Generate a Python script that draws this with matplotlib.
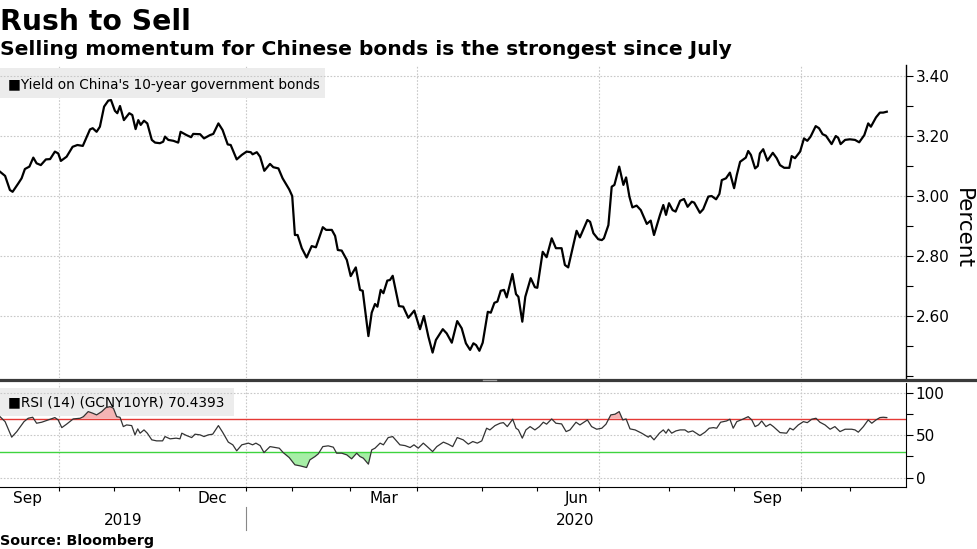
import matplotlib
matplotlib.use("Agg")
import matplotlib.pyplot as plt
import matplotlib.transforms as mtrans
from matplotlib.lines import Line2D
from matplotlib.patches import Rectangle
import numpy as np

W, H = 977, 549

# x axis: trading days counted from the start of Sep 2019
yield_days = [0, 1.7, 3.3, 4.2, 6.1, 7.2, 8.3, 9.8, 11.1, 12.2, 13.6, 15.3, 16.7, 18.3, 19.4,
              20.3, 22.2, 24.2, 25.8, 27.6, 28.7, 30, 30.9, 32.2, 33.3, 34.7, 36.1, 37, 38.3,
              39.1, 40, 41.3, 43.1, 44.1, 45.2, 46.1, 46.9, 48, 49.1, 50.6, 51.7, 53.3, 54.4,
              55, 56.1, 57.8, 59.4, 60.2, 62.2, 63.7, 64.4, 66.7, 68, 70, 71.1, 72.8, 74.2,
              75.9, 76.9, 78.9, 80.6, 82.2, 83.6, 84.2, 85.6, 86.7, 88.1, 90, 91.1, 92.8, 94.2,
              96.4, 97.4, 98.3, 99.2, 100.6, 102.2, 103.9, 105.3, 107.6, 108.7, 110.6, 111.7,
              112.6, 113.9, 115.6, 116.9, 118.6, 120, 120.9, 122.8, 123.9, 125, 125.8, 126.9,
              127.8, 129.1, 130, 130.9, 133, 134.4, 136.1, 138.1, 140, 141.3, 142.8, 144.2,
              145.3, 147.6, 148.9, 150.6, 152.4, 153.9, 155.3, 156.7, 157.8, 158.7, 159.8,
              160.9, 162.6, 163.6, 164.8, 165.8, 166.9, 168, 168.9, 170.8, 172, 172.8, 174.1,
              175.1, 176.9, 178.3, 179.1, 180.9, 182.2, 183.9, 185.3, 187.2, 188.3, 189.4,
              192.2, 193.3, 195.8, 196.7, 197.8, 199.4, 200.6, 201.3, 202.8, 203.9, 204.8,
              206.4, 207.8, 208.7, 209.8, 210.8, 212.2, 213.6, 215.6, 216.9, 218, 220, 221.1,
              222, 223, 224.2, 225.2, 226.7, 228, 229.2, 230.6, 231.4, 233.3, 234.4, 236.1,
              237.2, 238.7, 239.8, 240.6, 242, 243.3, 244.7, 245.6, 246.7, 247.8, 248.6, 249.4,
              250.3, 251.7, 252.6, 253.3, 254.4, 255.8, 257.6, 258.9, 260, 261.4, 263.1, 263.9,
              265, 266.7, 268, 269.1, 270.2, 271.9, 273, 274.2, 275.3, 277.2, 278.6, 279.4,
              280.2, 281.7, 283.3, 285, 286.4, 288.1, 289.4, 290.3, 292, 293.3, 294.4, 295.6]
yield_pct = [3.081, 3.067, 3.02, 3.014, 3.042, 3.059, 3.09, 3.098, 3.128, 3.109, 3.103, 3.122,
             3.123, 3.148, 3.142, 3.117, 3.131, 3.164, 3.17, 3.167, 3.192, 3.222, 3.226, 3.214,
             3.231, 3.298, 3.318, 3.32, 3.284, 3.276, 3.30, 3.253, 3.276, 3.27, 3.223, 3.253,
             3.237, 3.251, 3.242, 3.187, 3.178, 3.176, 3.181, 3.198, 3.187, 3.184, 3.178,
             3.214, 3.203, 3.196, 3.207, 3.206, 3.192, 3.203, 3.207, 3.242, 3.22, 3.172, 3.17,
             3.122, 3.137, 3.148, 3.146, 3.139, 3.146, 3.131, 3.084, 3.107, 3.096, 3.092,
             3.059, 3.022, 3.00, 2.87, 2.87, 2.826, 2.795, 2.833, 2.829, 2.896, 2.887, 2.887,
             2.867, 2.82, 2.818, 2.787, 2.733, 2.762, 2.687, 2.684, 2.533, 2.611, 2.64, 2.631,
             2.687, 2.676, 2.718, 2.72, 2.734, 2.633, 2.631, 2.594, 2.618, 2.556, 2.60, 2.531,
             2.478, 2.52, 2.556, 2.542, 2.511, 2.583, 2.559, 2.509, 2.487, 2.509, 2.503, 2.484,
             2.511, 2.614, 2.611, 2.644, 2.648, 2.684, 2.687, 2.662, 2.74, 2.673, 2.664, 2.581,
             2.664, 2.726, 2.696, 2.694, 2.814, 2.796, 2.859, 2.826, 2.826, 2.77, 2.762, 2.884,
             2.862, 2.92, 2.914, 2.876, 2.856, 2.853, 2.859, 2.903, 3.031, 3.037, 3.098, 3.037,
             3.062, 2.998, 2.962, 2.968, 2.953, 2.907, 2.918, 2.87, 2.937, 2.97, 2.937, 2.976,
             2.953, 2.948, 2.984, 2.99, 2.964, 2.981, 2.978, 2.944, 2.956, 2.998, 3.00, 2.989,
             3.007, 3.053, 3.059, 3.078, 3.026, 3.07, 3.114, 3.122, 3.128, 3.15, 3.137, 3.092,
             3.10, 3.142, 3.156, 3.118, 3.144, 3.126, 3.103, 3.094, 3.094, 3.133, 3.126, 3.148,
             3.192, 3.184, 3.198, 3.233, 3.226, 3.206, 3.201, 3.173, 3.20, 3.194, 3.173, 3.187,
             3.189, 3.187, 3.179, 3.203, 3.242, 3.231, 3.262, 3.278, 3.278, 3.281]

rsi_days = [0, 1.7, 3.9, 5.6, 8, 9.4, 10.9, 12.2, 13.9, 16.1, 18.3, 19.4, 20.6, 22.2, 24.4,
            26.7, 27.8, 29.4, 30.9, 32.2, 33.9, 35.3, 36.7, 37.8, 38.9, 40, 41.1, 42.2, 43.9,
            45, 45.9, 46.7, 48, 49.1, 50.6, 52.2, 54.2, 55, 56.7, 58.7, 60, 60.6, 62.2, 63.9,
            65, 66.7, 68, 69.4, 70.9, 72.8, 74.2, 76.1, 77.6, 78.9, 80.6, 82.8, 84.2, 85.3,
            86.7, 88, 90, 91.7, 93.1, 94.4, 96.4, 98.3, 100, 102.2, 103.3, 105, 106.1, 107.6,
            109.4, 111.1, 112.2, 113.9, 115.6, 117.2, 118.9, 120, 121.1, 122.8, 123.9, 125,
            126.7, 127.8, 129.4, 130.9, 133.3, 135, 136.7, 138, 139.4, 141.1, 142.4, 144.2,
            145.6, 147.8, 149.4, 150.9, 152.4, 154.4, 156.1, 157.6, 159.1, 160.6, 162.2, 163.3,
            165, 166.7, 167.8, 169.1, 170.9, 172, 172.8, 174.1, 175.3, 176.7, 178.3, 179.8,
            181.1, 182.2, 183.9, 185.3, 187.2, 188.7, 190, 192, 193.3, 195.8, 197.2, 198.9,
            200.6, 202, 203.6, 205, 206.4, 207.6, 208.7, 210, 211.7, 213.9, 216.1, 216.7, 218,
            219.8, 221.1, 222, 222.8, 223.9, 225.3, 226.7, 228.3, 229.4, 230.9, 233.3, 235,
            236.4, 237.8, 238.9, 240.2, 242.2, 243.3, 244.4, 245.6, 247.6, 249.4, 250.6, 251.7,
            252.8, 253.9, 255.3, 256.7, 257.8, 260, 262.2, 263.3, 264.4, 266.1, 267.8, 269.1,
            270.6, 272, 273.3, 275, 276.7, 278.3, 280, 281.7, 283.9, 285, 286.1, 287.8, 289.4,
            290.6, 292, 293.3, 294.4, 295.6]
rsi_vals = [72.2, 66.3, 47.9, 54.5, 66.3, 70.3, 71.5, 64.4, 65.6, 68.3, 71.1, 68.3, 59.2, 63.3,
            69.5, 70.3, 72.2, 78.2, 76.3, 74.3, 78.2, 82.9, 84.1, 82.2, 72.2, 71.5, 60.4, 62.4,
            61.6, 50.6, 57.7, 52.6, 56.5, 52.6, 44.7, 43.5, 43.5, 48.6, 45.9, 46.7, 45.9, 52.6,
            49.8, 47.4, 51.4, 50.6, 48.6, 50.6, 51.4, 61.6, 53.8, 42, 38.8, 31.7, 38.8, 40.8,
            38.8, 40.8, 37.9, 29.6, 36.7, 35.6, 34.8, 29.6, 23.7, 15.1, 13.9, 11.9, 21, 24.9,
            28.1, 36.7, 37.6, 36, 28.9, 28.9, 26.9, 22.2, 28.9, 24.9, 23, 15.9, 32.8, 34.8, 40.8,
            38.8, 47.4, 48.6, 38.8, 37.9, 35.6, 38.8, 34.8, 40.8, 36.7, 30.8, 36.7, 42, 39.6,
            36.7, 47.4, 44.7, 39.6, 42.7, 40.8, 43.5, 58.5, 56.5, 61.6, 64.4, 65.1, 60.4, 69.2,
            58.5, 56.5, 46.7, 56.5, 60.4, 56.5, 60.4, 65.6, 63.3, 69.5, 64.4, 63.6, 54.5, 56.5,
            65.6, 62.4, 68.3, 60.4, 57.3, 58.5, 63.3, 74.3, 75.1, 78.2, 68.3, 69.5, 57.7, 56.5,
            52.6, 47.9, 49.8, 44.7, 52.6, 56.5, 52.6, 57.3, 52.6, 55.3, 56.5, 56.5, 53.8, 55.3,
            49.8, 53.8, 58.5, 59.2, 58.5, 65.6, 67.1, 69.2, 58.5, 66.3, 69.2, 72.2, 68.3, 60.4,
            62.4, 67.1, 60.4, 63.3, 60.4, 53.3, 52.6, 58.5, 56.5, 62.4, 66.3, 65.1, 69.2, 70.3,
            65.6, 62.4, 57.3, 60.4, 54.5, 57.3, 57.3, 56.5, 53.8, 60.4, 68.3, 64.4, 68.3, 71.1,
            71.5, 71.1]
rsi_high, rsi_low = 70, 30

month_starts = [19.7, 38, 59.7, 82, 97.3, 116.7, 139, 160.7, 179, 199.7, 223, 244.7, 267, 283.3]
quarter_starts = [19.7, 82, 139, 199.7, 267]
month_label_pos = [9.3, 70.7, 128, 192.3, 256]
month_labels = ["Sep", "Dec", "Mar", "Jun", "Sep"]
year_pos = [41, 191.7]
year_labels = ["2019", "2020"]
year_break = 82

plt.rcParams["font.family"] = "DejaVu Sans"
plt.rcParams["font.size"] = 11

fig = plt.figure(figsize=(W / 100, H / 100), dpi=100)


def px_box(x0, y0, x1, y1):
    return [x0 / W, 1 - y1 / H, (x1 - x0) / W, (y1 - y0) / H]


grid_kw = dict(color="#c8c8c8", ls=(0, (1.5, 1.5)), lw=0.8)

# ---- top panel: yield
ax1 = fig.add_axes(px_box(0, 65, 906, 378))
ax1.plot(yield_days, yield_pct, color="black", lw=1.6, zorder=3)
ax1.set_xlim(0, 302)
ax1.set_ylim(2.3933, 3.4367)
ax1.yaxis.tick_right()
ax1.set_yticks([2.6, 2.8, 3.0, 3.2, 3.4])
ax1.set_yticklabels([f"{v:.2f}" for v in [2.6, 2.8, 3.0, 3.2, 3.4]])
ax1.set_yticks([2.4, 2.5, 2.7, 2.9, 3.1, 3.3], minor=True)
ax1.tick_params(axis="y", which="both", length=5, width=0.8, pad=2, direction="out")
ax1.set_xticks([])
ax1.grid(axis="y", **grid_kw)
for q in quarter_starts:
    ax1.axvline(q, zorder=0, **grid_kw)
for s in ["top", "left", "bottom"]:
    ax1.spines[s].set_visible(False)
ax1.spines["right"].set_linewidth(1)

# ---- bottom panel: RSI
ax2 = fig.add_axes(px_box(0, 383, 906, 487))
rd = np.array(rsi_days)
rv = np.array(rsi_vals)
ax2.fill_between(rd, rv, rsi_high, where=rv > rsi_high, interpolate=True,
                 color="#f4b4b4", lw=0, zorder=2)
ax2.fill_between(rd, rv, rsi_low, where=rv < rsi_low, interpolate=True,
                 color="#a6eea6", lw=0, zorder=2)
ax2.axhline(rsi_high, color="#e53935", lw=1, zorder=2.5)
ax2.axhline(rsi_low, color="#3fd43f", lw=1, zorder=2.5)
ax2.plot(rd, rv, color="#333333", lw=0.9, zorder=3)
ax2.set_xlim(0, 302)
ax2.set_ylim(-11.2, 112.1)
ax2.yaxis.tick_right()
ax2.set_yticks([0, 50, 100])
ax2.set_yticks([25, 75], minor=True)
ax2.tick_params(axis="y", which="both", length=5, width=0.8, pad=2)
ax2.set_xticks(month_starts)
ax2.set_xticklabels([])
ax2.set_xticks(month_label_pos, minor=True)
ax2.set_xticklabels(month_labels, minor=True)
ax2.tick_params(axis="x", which="major", length=3, width=0.8, direction="out")
ax2.tick_params(axis="x", which="minor", length=0, pad=3)
ax2.grid(axis="y", **grid_kw)
for q in quarter_starts:
    ax2.axvline(q, zorder=0, **grid_kw)
for s in ["top", "left"]:
    ax2.spines[s].set_visible(False)

trans = mtrans.blended_transform_factory(ax2.transData, ax2.transAxes)
for xp, lab in zip(year_pos, year_labels):
    ax2.text(xp, -0.37, lab, transform=trans, ha="center", va="baseline", fontsize=11)
ax2.plot([year_break, year_break], [-0.19, -0.41], transform=trans, color="#888888",
         lw=0.8, clip_on=False)

# ---- divider between panels
fig.add_artist(Line2D([0, 1], [1 - 380 / H] * 2, transform=fig.transFigure,
                      color="#3a3a3a", lw=2.3))
fig.add_artist(Line2D([483 / W, 496 / W], [1 - 380 / H] * 2, transform=fig.transFigure,
                      color="#a0a0a0", lw=1))

# ---- legend boxes
for ax, (x0, y0, x1, y1), label, base in [
        (ax1, (0, 68, 325, 98), "\u25a0Yield on China's 10-year government bonds", 89.5),
        (ax2, (0, 388, 234, 416), "\u25a0RSI (14) (GCNY10YR) 70.4393", 406)]:
    ax.add_patch(Rectangle((x0 / W, 1 - y1 / H), (x1 - x0) / W, (y1 - y0) / H,
                           transform=fig.transFigure, facecolor="#ececec", edgecolor="none",
                           zorder=1.5, clip_on=False))
    ax.text(8 / W, 1 - base / H, label, transform=fig.transFigure, fontsize=9.8,
            va="baseline", ha="left", zorder=4)

# ---- titles and labels
fig.text(0, 1 - 30 / H, "Rush to Sell", fontsize=20.3, fontweight="bold", va="baseline")
fig.text(0, 1 - 55 / H, "Selling momentum for Chinese bonds is the strongest since July",
         fontsize=14.6, fontweight="bold", va="baseline")
fig.text(963 / W, 1 - 229 / H, "Percent", rotation=270, ha="center", va="center", fontsize=15.5)
fig.text(0, 1 - 545 / H, "Source: Bloomberg", fontsize=10.3, fontweight="bold", va="baseline")

fig.savefig("out.png", dpi=100)
